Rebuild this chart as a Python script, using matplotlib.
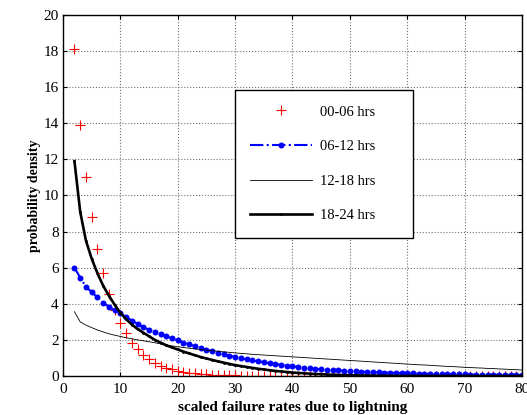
import matplotlib
matplotlib.use("Agg")
import matplotlib.pyplot as plt

# ============================================================
# DATA
# ============================================================
x_vals = list(range(2, 81))

red_00_06 = [
    18.1, 13.9, 11.0, 8.8, 7.05, 5.68, 4.55, 3.66, 2.95, 2.36,
    1.85, 1.47, 1.17, 0.93, 0.74, 0.58, 0.46, 0.37, 0.30, 0.24,
    0.19, 0.15, 0.12, 0.10, 0.08, 0.065, 0.05, 0.04, 0.033, 0.027,
    0.022, 0.018, 0.015, 0.012, 0.010, 0.008, 0.007, 0.006, 0.005, 0.004,
    0.004, 0.003, 0.003, 0.002, 0.002, 0.002, 0.001, 0.001, 0.001, 0.001,
    0.001, 0.001, 0.0, 0.0, 0.0, 0.0, 0.0, 0.0, 0.0, 0.0,
    0.0, 0.0, 0.0, 0.0, 0.0, 0.0, 0.0, 0.0, 0.0, 0.0,
    0.0, 0.0, 0.0, 0.0, 0.0, 0.0, 0.0, 0.0, 0.0,
]

blue_06_12 = [
    6.0, 5.45, 4.95, 4.64, 4.36, 4.05, 3.84, 3.65, 3.47, 3.27,
    3.07, 2.9, 2.7, 2.57, 2.45, 2.33, 2.2, 2.08, 1.97, 1.85,
    1.75, 1.65, 1.55, 1.46, 1.37, 1.29, 1.2, 1.13, 1.06, 0.99,
    0.92, 0.86, 0.81, 0.76, 0.71, 0.66, 0.62, 0.58, 0.54, 0.5,
    0.46, 0.43, 0.4, 0.37, 0.35, 0.33, 0.31, 0.29, 0.27, 0.25,
    0.24, 0.22, 0.21, 0.2, 0.19, 0.18, 0.17, 0.16, 0.15, 0.14,
    0.13, 0.13, 0.12, 0.11, 0.11, 0.1, 0.1, 0.09, 0.09, 0.08,
    0.08, 0.08, 0.07, 0.07, 0.07, 0.06, 0.06, 0.06, 0.05,
]

thin_12_18 = [
    3.56, 3.0, 2.82, 2.68, 2.55, 2.44, 2.34, 2.26, 2.19, 2.12,
    2.06, 2.0, 1.95, 1.9, 1.84, 1.78, 1.72, 1.67, 1.62, 1.58,
    1.54, 1.5, 1.46, 1.43, 1.4, 1.37, 1.34, 1.31, 1.28, 1.25,
    1.23, 1.2, 1.18, 1.16, 1.14, 1.12, 1.1, 1.08, 1.06, 1.04,
    1.02, 1.0, 0.98, 0.96, 0.94, 0.92, 0.9, 0.88, 0.86, 0.84,
    0.82, 0.8, 0.78, 0.76, 0.74, 0.72, 0.7, 0.68, 0.66, 0.64,
    0.62, 0.61, 0.59, 0.57, 0.55, 0.53, 0.52, 0.5, 0.48, 0.47,
    0.45, 0.44, 0.42, 0.41, 0.39, 0.38, 0.36, 0.35, 0.33,
]

thick_18_24 = [
    11.9, 9.1, 7.5, 6.5, 5.7, 5.0, 4.45, 3.95, 3.5, 3.15,
    2.85, 2.6, 2.4, 2.2, 2.0, 1.85, 1.7, 1.58, 1.47, 1.35,
    1.25, 1.15, 1.05, 0.97, 0.89, 0.81, 0.74, 0.67, 0.6, 0.55,
    0.5, 0.45, 0.4, 0.36, 0.32, 0.28, 0.25, 0.22, 0.19, 0.17,
    0.15, 0.13, 0.11, 0.1, 0.08, 0.07, 0.06, 0.05, 0.04, 0.035,
    0.03, 0.025, 0.02, 0.015, 0.012, 0.01, 0.008, 0.006, 0.005, 0.004,
    0.003, 0.003, 0.002, 0.002, 0.001, 0.001, 0.001, 0.001, 0.0, 0.0,
    0.0, 0.0, 0.0, 0.0, 0.0, 0.0, 0.0, 0.0, 0.0,
]

labels = ["00-06 hrs", "06-12 hrs", "12-18 hrs", "18-24 hrs"]
x_ticks = [0, 10, 20, 30, 40, 50, 60, 70, 80]
y_ticks = [0, 2, 4, 6, 8, 10, 12, 14, 16, 18, 20]

# ============================================================
# FIGURE
# ============================================================
plt.rcParams["font.family"] = ["Liberation Serif", "DejaVu Serif"]

fig = plt.figure(figsize=(5.27, 4.15), dpi=100)
ax = fig.add_axes([0.1195, 0.094, 0.871, 0.870])

ax.plot(x_vals, red_00_06, linestyle="none", marker="+", color="red",
        markersize=6.5, markeredgewidth=0.8, label=labels[0])
ax.plot(x_vals, blue_06_12, linestyle="-.", color="blue", linewidth=1.5,
        marker="o", markersize=4.3, markeredgewidth=0, label=labels[1])
ax.plot(x_vals, thin_12_18, linestyle="-", color="black", linewidth=0.6,
        label=labels[2])
ax.plot(x_vals, thick_18_24, linestyle="-", color="black", linewidth=1.9,
        marker=".", markersize=2, label=labels[3])

ax.set_xlim(0, 80)
ax.set_ylim(0, 20)
ax.set_xticks(x_ticks)
ax.set_yticks(y_ticks)
ax.tick_params(direction="in", top=True, right=True, length=3, width=0.8,
               labelsize=11)
ax.tick_params(axis="x", pad=5)
ax.tick_params(axis="y", pad=3)
ax.grid(True, color="0.45", linestyle=":", linewidth=0.8)
for sp in ax.spines.values():
    sp.set_linewidth(1.0)

ax.set_xlabel("scaled failure rates due to lightning", fontsize=11,
              fontweight="bold", labelpad=4)
ax.set_ylabel("probability density", fontsize=10, fontweight="bold",
              labelpad=2)

# legend box stretched to the reference width
leg = ax.legend(loc="upper left", bbox_to_anchor=(0.375, 0.792, 0.388, 0.0),
                mode="expand", borderaxespad=0, numpoints=1,
                handlelength=4.25, fontsize=10.5, labelspacing=1.47,
                borderpad=1.05, handletextpad=0.55, fancybox=False,
                framealpha=1)
leg.get_frame().set_edgecolor("black")
leg.get_frame().set_linewidth(1.0)

fig.savefig("out.png", dpi=100)
